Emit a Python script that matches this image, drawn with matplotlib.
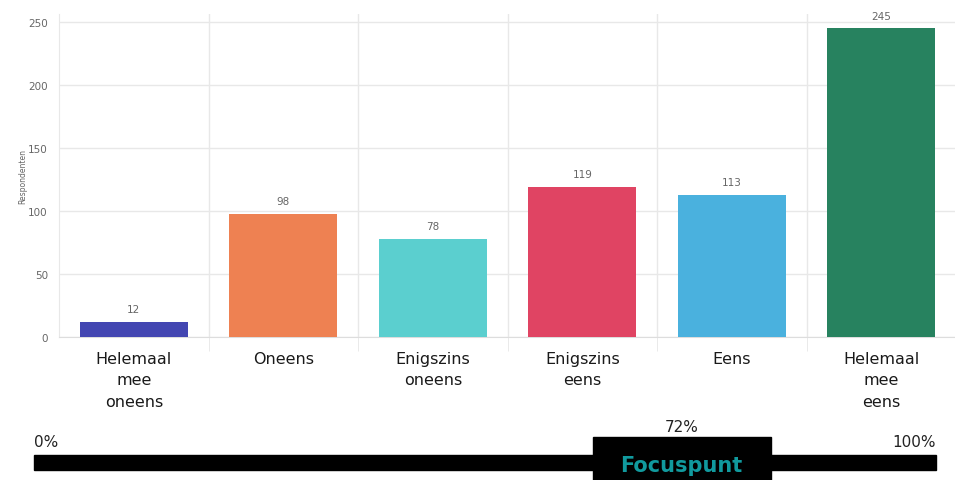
import matplotlib
matplotlib.use("Agg")
import matplotlib.pyplot as plt
from matplotlib.patches import Rectangle

categories = ["Helemaal\nmee\noneens", "Oneens", "Enigszins\noneens", "Enigszins\neens", "Eens", "Helemaal\nmee\neens"]
values = [12, 98, 78, 119, 113, 245]
colors = ["#4346B2", "#EE8152", "#5BCFCF", "#E04463", "#4AB1DE", "#27825F"]
y_ticks = [0, 50, 100, 150, 200, 250]
focus_pct = 72
scale_labels = ["0%", "100%"]

W, H = 955, 481
fig = plt.figure(figsize=(W / 100, H / 100), dpi=100)
fig.patch.set_facecolor("white")

def fx(px):
    return px / W

def fy(py):
    return 1 - py / H

ymax = 256
top_px = 338 - ymax * (315 / 250)
ax = fig.add_axes([fx(59), fy(338), fx(956) - fx(59), fy(top_px) - fy(338)])
x = list(range(len(values)))
ax.bar(x, values, width=0.72, color=colors, zorder=3)
ax.set_xlim(-0.5, len(values) - 0.5)
ax.set_ylim(0, ymax)
ax.set_yticks(y_ticks)
ax.set_yticklabels([str(t) for t in y_ticks], fontsize=7.5, color="#666666")
ax.tick_params(axis="y", length=0, pad=8)
ax.set_xticks([i + 0.5 for i in x[:-1]], minor=True)
ax.set_xticks(x)
ax.set_xticklabels(categories, fontsize=11.5, color="#1a1a1a", linespacing=1.55)
ax.tick_params(axis="x", which="major", length=0, pad=10)
ax.tick_params(axis="x", which="minor", length=10, color="#e6e6e6")
ax.grid(axis="y", color="#e8e8e8", linewidth=1, zorder=0)
ax.grid(axis="x", which="minor", color="#e8e8e8", linewidth=1, zorder=0)
for s in ["top", "right"]:
    ax.spines[s].set_visible(False)
ax.spines["left"].set_color("#e8e8e8")
ax.spines["bottom"].set_color("#dddddd")
ax.set_ylabel("Respondenten", fontsize=5.5, color="#666666", labelpad=1)
for i, v in enumerate(values):
    ax.text(i, v + 6, str(v), ha="center", va="bottom", fontsize=7.5, color="#666666")

# Percentage scale bar
sax = fig.add_axes([fx(34), fy(471), fx(936) - fx(34), fy(456) - fy(471)])
sax.set_xlim(0, 100)
sax.set_ylim(0, 1)
sax.axis("off")
sax.add_patch(Rectangle((0, 0), 100, 1, color="black", clip_on=False))
center = focus_pct - 0.2
box_w = 178 / 902 * 100
sax.add_patch(Rectangle((center - box_w / 2, -0.67), box_w, 2.87, color="black", clip_on=False))
sax.text(center, 0.35, "Focuspunt", ha="center", va="center", fontsize=15,
         fontweight="bold", color="#119A9E", clip_on=False)
sax.text(center, 2.9, f"{focus_pct}%", ha="center", va="center", fontsize=11, color="#222222")
sax.text(0, 1.9, scale_labels[0], ha="left", va="center", fontsize=11, color="#222222")
sax.text(100, 1.9, scale_labels[1], ha="right", va="center", fontsize=11, color="#222222")

fig.savefig("out.png", dpi=100)
